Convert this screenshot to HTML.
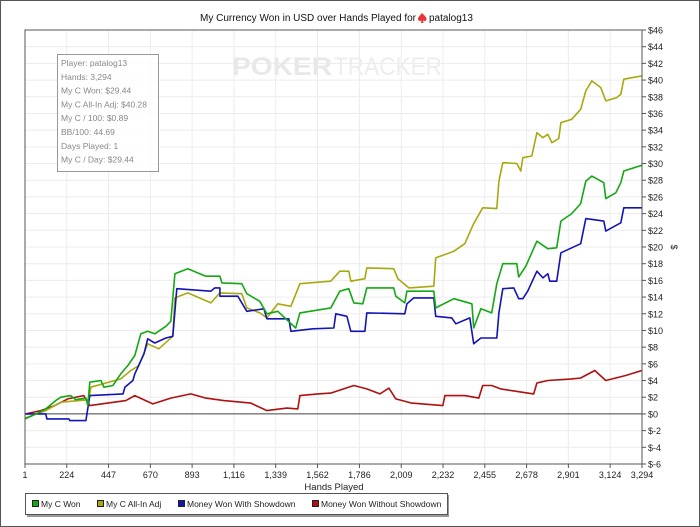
<!DOCTYPE html>
<html><head><meta charset="utf-8"><style>
html,body{margin:0;padding:0;background:#fff;}
#wrap{position:relative;width:700px;height:527px;box-sizing:border-box;border:1px solid #555;overflow:hidden;font-family:"Liberation Sans",sans-serif;}
svg{position:absolute;left:0;top:0;}
</style></head><body>
<div id="wrap">
<svg id="chart" width="700" height="527"></svg>
</div>
<script>
const xTicks = [1,224,447,670,893,1116,1339,1562,1786,2009,2232,2455,2678,2901,3124,3294];
const xTickLabels = ["1","224","447","670","893","1,116","1,339","1,562","1,786","2,009","2,232","2,455","2,678","2,901","3,124","3,294"];
const yTicks = [46,44,42,40,38,36,34,32,30,28,26,24,22,20,18,16,14,12,10,8,6,4,2,0,-2,-4,-6];
const yTickLabels = ["$46","$44","$42","$40","$38","$36","$34","$32","$30","$28","$26","$24","$22","$20","$18","$16","$14","$12","$10","$8","$6","$4","$2","$0","$-2","$-4","$-6"];

const wonHands = [1,60,112,165,192,245,272,326,336,347,406,422,470,512,550,587,619,656,694,753,779,801,870,966,1041,1052,1158,1185,1254,1292,1350,1446,1468,1633,1681,1729,1756,1804,1825,1969,1980,2028,2039,2183,2193,2290,2386,2396,2434,2492,2519,2551,2626,2636,2674,2733,2791,2839,2861,2919,2967,2994,3026,3090,3101,3154,3181,3197,3294];
const wonValues = [-0.6,0,0.6,1.6,2.0,2.2,1.7,1.9,1.0,3.8,4.0,3.2,3.4,4.8,5.8,7.0,9.6,9.9,9.6,10.5,11.1,16.8,17.4,16.5,16.5,15.7,15.6,14.4,13.5,12.0,12.3,10.3,12.1,12.7,14.7,15.0,13.3,13.2,15.1,15.1,14.1,13.3,14.7,14.7,12.7,13.8,13.2,10.3,12.6,12.1,15.6,18.0,18.0,16.4,17.7,20.7,19.8,19.9,23.1,24.0,25.2,27.9,28.5,27.7,25.8,26.5,27.7,29.1,29.8];

const adjHands = [1,112,192,342,352,512,566,609,656,715,790,801,870,993,1041,1158,1185,1254,1292,1350,1420,1468,1633,1681,1729,1740,1815,1825,1969,1991,2050,2183,2193,2290,2348,2396,2444,2519,2530,2551,2626,2647,2658,2706,2733,2765,2791,2813,2850,2861,2919,2967,2994,3026,3074,3101,3159,3181,3197,3294];
const adjValues = [-0.5,0.4,1.4,1.7,3.2,4.2,5.2,5.8,8.4,7.8,9.3,13.9,14.5,13.3,14.5,14.4,12.7,12.1,11.5,13.2,12.9,15.6,15.9,17.1,17.1,15.9,16.2,17.5,17.4,16.2,15.1,15.3,18.7,19.5,20.4,22.8,24.7,24.6,27.9,30.1,30.0,29.1,30.7,30.9,33.7,33.1,33.5,32.5,33.0,34.9,35.3,36.5,38.7,39.9,39.1,37.5,37.9,38.3,40.1,40.5];

const sdHands = [1,112,118,235,240,326,347,524,534,577,587,636,656,694,753,790,811,993,1014,1041,1041,1137,1185,1276,1292,1409,1420,1537,1649,1660,1719,1740,1815,1825,2028,2039,2076,2183,2193,2279,2300,2375,2396,2434,2519,2530,2551,2610,2636,2658,2684,2733,2765,2791,2802,2839,2861,2967,2994,3090,3101,3181,3197,3294];
const sdValues = [0,0,-0.6,-0.6,-0.8,-0.8,2.2,2.4,3.2,4.0,4.8,7.2,9.0,8.5,9.1,9.3,15.0,14.7,15.1,15.1,14.1,14.1,12.3,12.6,11.4,11.4,9.9,10.2,10.3,12.0,11.7,9.9,9.9,12.1,12.0,13.2,13.9,13.9,11.7,11.5,10.8,11.5,8.4,9.1,9.1,12.1,15.0,15.1,13.8,13.8,14.7,17.1,16.3,16.8,15.9,15.9,19.3,20.4,23.4,23.1,21.9,22.9,24.7,24.7];

const nsdHands = [5,85,160,229,315,347,443,539,587,683,779,886,966,1062,1206,1292,1398,1457,1468,1564,1633,1756,1825,1895,1943,1980,2065,2231,2242,2348,2423,2444,2492,2540,2684,2716,2733,2791,2919,2967,3042,3101,3207,3294];
const nsdValues = [0,0.4,1.0,1.8,2.2,1.0,1.3,1.6,2.2,1.2,1.9,2.4,1.9,1.6,1.3,0.4,0.7,0.6,2.2,2.4,2.5,3.4,3.0,2.4,3.1,1.8,1.3,1.0,2.2,2.2,1.9,3.4,3.4,3.0,2.5,2.4,3.7,4.0,4.2,4.3,5.2,4.0,4.6,5.2];

const NS='http://www.w3.org/2000/svg';
const svg=document.getElementById('chart');
const L=24,R=641,T=29,B=463,X0=1,X1=3294,Y0=-6,Y1=46;
function xs(h){return L+(h-X0)/(X1-X0)*(R-L);}
function ys(v){return B-(v-Y0)/(Y1-Y0)*(B-T);}
function mk(tag,attrs,parent){const e=document.createElementNS(NS,tag);for(const k in attrs)e.setAttribute(k,attrs[k]);(parent||svg).appendChild(e);return e;}

// title
let t=mk('text',{x:415,y:20,'font-size':'10','text-anchor':'end',fill:'#111'});
t.textContent='My Currency Won in USD over Hands Played for';


let sp=mk('path',{d:'M421,12 C419,14.5 417,16 417,18 C417,20 419,20.5 420.5,19.5 L420,22 L422.5,22 L422,19.5 C423.5,20.5 425.5,20 425.5,18 C425.5,16 423.5,14.5 421,12Z',fill:'#e33'});


t=mk('text',{x:428,y:20,'font-size':'10',fill:'#111'});
t.textContent='patalog13';



// grid
const grid=mk('g',{});


yTicks.forEach(v=>{mk('line',{x1:L,x2:R,y1:ys(v),y2:ys(v),stroke:'#ececec','stroke-width':1},grid);});
xTicks.forEach(h=>{mk('line',{x1:xs(h),x2:xs(h),y1:T,y2:B,stroke:'#ececec','stroke-width':1},grid);});

// watermark
t=mk('text',{x:231,y:74,'font-size':'25','font-weight':'bold',fill:'#e8e8e8','textLength':'100','lengthAdjust':'spacingAndGlyphs'});
t.textContent='POKER';


t=mk('text',{x:333,y:74,'font-size':'25',fill:'#ededed','textLength':'108','lengthAdjust':'spacingAndGlyphs'});
t.textContent='TRACKER';



// zero line
let z=mk('line',{x1:L,x2:R,y1:ys(0),y2:ys(0),stroke:'#444','stroke-width':1});



// series
function series(hs,vs,color,name){
  const pts=hs.map((h,i)=>xs(h).toFixed(1)+','+ys(vs[i]).toFixed(1)).join(' ');
  const p=mk('polyline',{points:pts,fill:'none',stroke:color,'stroke-width':1.6,'stroke-linejoin':'round'});
  
  
}
series(nsdHands,nsdValues,'#b01010','line-money-won-without-showdown');
series(adjHands,adjValues,'#a8a810','line-my-c-all-in-adj');
series(sdHands,sdValues,'#1414b4','line-money-won-with-showdown');
series(wonHands,wonValues,'#14a814','line-my-c-won');

// plot frame
let fr=mk('rect',{x:L,y:T,width:R-L,height:B-T,fill:'none',stroke:'#555','stroke-width':1});



// y axis
yTicks.forEach((v,i)=>{
  mk('line',{x1:R,x2:R+4,y1:ys(v),y2:ys(v),stroke:'#555'});
  const tx=mk('text',{x:R+6,y:ys(v)+3.5,'font-size':'9',fill:'#222'});
  tx.textContent=yTickLabels[i];
  
  
});
t=mk('text',{x:0,y:0,'font-size':'9',fill:'#222','text-anchor':'middle',transform:'translate(670,246) rotate(90)'});
t.textContent='$';



// x axis
xTicks.forEach((h,i)=>{
  mk('line',{x1:xs(h),x2:xs(h),y1:B,y2:B+4,stroke:'#555'});
  const tx=mk('text',{x:xs(h),y:B+14,'font-size':'9',fill:'#222','text-anchor':'middle'});
  tx.textContent=xTickLabels[i];
  
  
});
t=mk('text',{x:333,y:489,'font-size':'9.5',fill:'#222','text-anchor':'middle'});
t.textContent='Hands Played';



// stats box
const sb=mk('g',{});


mk('rect',{x:56.5,y:53.5,width:101,height:117,fill:'#fff','fill-opacity':0.85,stroke:'#999'},sb);
const stats=['Player: patalog13','Hands: 3,294','My C Won: $29.44','My C All-In Adj: $40.28','My C / 100: $0.89','BB/100: 44.69','Days Played: 1','My C / Day: $29.44'];
stats.forEach((s,i)=>{
  const tx=mk('text',{x:60,y:65+i*13.8,'font-size':'8.5',fill:'#888'},sb);
  tx.textContent=s;
  
  
});

// legend
const lg=mk('g',{});


mk('rect',{x:26,y:494,width:422,height:22,fill:'#999'},lg);
mk('rect',{x:24.5,y:492.5,width:422,height:21,fill:'#fff',stroke:'#555'},lg);
const legItems=[['My C Won','#14a814',31],['My C All-In Adj','#a8a810',96],['Money Won With Showdown','#1414b4',177],['Money Won Without Showdown','#b01010',311]];
legItems.forEach(it=>{
  const g=mk('g',{},lg);
  
  
  mk('rect',{x:it[2]+0.5,y:499.5,width:6,height:6,fill:it[1],stroke:'#222'},g);
  const tx=mk('text',{x:it[2]+9,y:506,'font-size':'8.5',fill:'#222'},g);
  tx.textContent=it[0];
});
</script>
</body></html>
